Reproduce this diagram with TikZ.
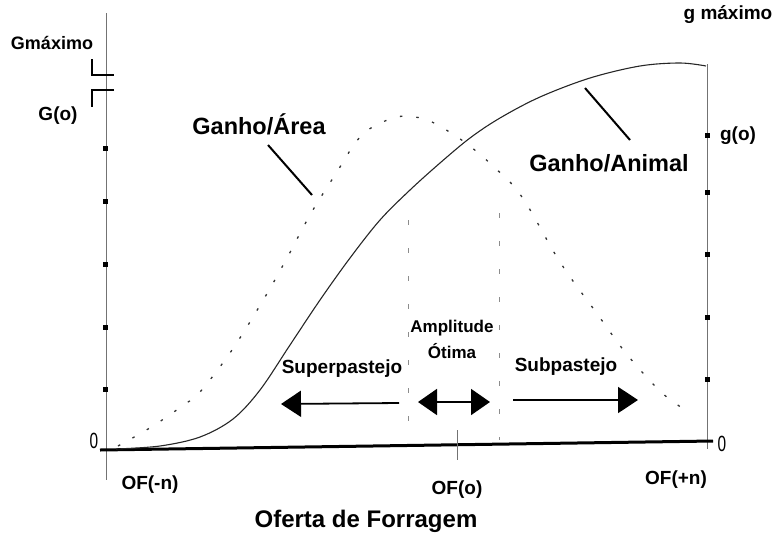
\documentclass[tikz,border=0pt]{standalone}
\usepackage{fontspec}
\setmainfont{Liberation Sans}
\usetikzlibrary{arrows.meta}
\tikzset{
  lbl/.style={font=\bfseries\fontsize{19}{21}\selectfont, inner sep=0pt},
  big/.style={font=\bfseries\fontsize{23.5}{25}\selectfont, inner sep=0pt},
  zero/.style={font=\fontsize{22}{24}\selectfont, inner sep=0pt, xscale=0.7},
  axisline/.style={draw=black!55, line width=1pt},
  marker/.style={fill=black, minimum size=5pt, inner sep=0pt},
  brk/.style={line width=2pt},
  leader/.style={line width=2pt},
  gcurve/.style={line width=1.1pt, black!85},
  acurve/.style={line width=1.3pt, black!80, dash pattern=on 2.5pt off 14pt},
  vdash/.style={line width=1pt, black!45, dash pattern=on 5pt off 23pt},
  shaft/.style={line width=1.8pt},
  tri/.style={-{Triangle[length=20pt,width=26pt]}},
  tritwo/.style={{Triangle[length=19pt,width=26pt]}-{Triangle[length=19pt,width=26pt]}}
}
\begin{document}
\begin{tikzpicture}[x=1pt,y=-1pt]
\useasboundingbox (0,0) rectangle (775,538);
% axes
\coordinate (ly0) at (106,13);
\coordinate (ly1) at (106,480);
\draw[axisline] (ly0) -- (ly1);
\coordinate (ry0) at (707,64);
\coordinate (ry1) at (707,449);
\draw[axisline] (ry0) -- (ry1);
\coordinate (bx0) at (100,450);
\coordinate (bx1) at (713,441);
\draw[line width=3pt] (bx0) -- (bx1);
% OF(o) tick
\coordinate (t0) at (457,430);
\coordinate (t1) at (457,460);
\draw[axisline] (t0) -- (t1);
% break marks on left axis
\coordinate (b1a) at (92,59);
\coordinate (b1b) at (92,75);
\coordinate (b1c) at (114,75);
\draw[brk] (b1a) -- (b1b) -- (b1c);
\coordinate (b2a) at (114,90);
\coordinate (b2b) at (92,90);
\coordinate (b2c) at (92,107);
\draw[brk] (b2a) -- (b2b) -- (b2c);
% markers
\foreach \y [count=\i] in {148,201,264,327,389} \node[marker] (lm\i) at (105,\y) {};
\foreach \y [count=\i] in {135,192,254,317,379} \node[marker] (rm\i) at (707,\y) {};
% zeros
\node[zero] (z0) at (94,441) {0};
\node[zero] (z1) at (722,444) {0};
% dashed verticals
\coordinate (v1a) at (408,220);
\coordinate (v1b) at (408,440);
\draw[vdash] (v1a) -- (v1b);
\coordinate (v2a) at (499,213);
\coordinate (v2b) at (499,440);
\draw[vdash] (v2a) -- (v2b);
% Ganho/Animal curve (solid)
\draw[gcurve] plot[smooth, tension=0.55] coordinates {(116,449) (160,446) (200,437) (233,419) (260,390) (290,345) (320,300) (350,258) (380,220) (410,190) (440,163) (470,138) (500,118) (540,97) (590,78) (640,66) (680,63) (706,66)};
% Ganho/Area curve (dotted)
\draw[acurve] plot[smooth, tension=0.6] coordinates {(118,446) (136,436) (153,426) (168,416) (185,404) (200,392) (232,350) (265,297) (287,258) (310,215) (335,175) (362,135) (393,118) (412,117) (430,121) (463,141) (494,167) (522,197) (560,262) (598,315) (625,352) (653,384) (668,398) (688,412)};
% leaders
\coordinate (la0) at (268,145);
\coordinate (la1) at (312,195);
\draw[leader] (la0) -- (la1);
\coordinate (lb0) at (585,88);
\coordinate (lb1) at (630,140);
\draw[leader] (lb0) -- (lb1);
% arrows
\coordinate (sa0) at (399,403);
\coordinate (sa1) at (281,404);
\draw[shaft,tri] (sa0) -- (sa1);
\coordinate (aa0) at (418,402);
\coordinate (aa1) at (490,402);
\draw[shaft,tritwo] (aa0) -- (aa1);
\coordinate (ba0) at (513,400);
\coordinate (ba1) at (638,400);
\draw[shaft,tri] (ba0) -- (ba1);
% labels
\node[lbl, font=\bfseries\fontsize{18}{20}\selectfont] (gmax) at (52,43) {Gmáximo};
\node[lbl] (go) at (58,116) {G(o)};
\node[lbl] (gmx) at (728,15) {g máximo};
\node[lbl] (gg) at (738,136) {g(o)};
\node[big] (ga) at (259,124) {Ganho/Área};
\node[big] (gan) at (609,163) {Ganho/Animal};
\node[lbl] (sup) at (342,369) {Superpastejo};
\node[lbl] (sub) at (566,367) {Subpastejo};
\node[lbl, font=\bfseries\fontsize{17}{19}\selectfont] (amp) at (452,328) {Amplitude};
\node[lbl, font=\bfseries\fontsize{17}{19}\selectfont] (oti) at (452,351) {Ótima};
\node[lbl] (ofn) at (150,485) {OF(-n)};
\node[lbl] (ofo) at (457,490) {OF(o)};
\node[lbl] (ofp) at (676,480) {OF(+n)};
\node[lbl, font=\bfseries\fontsize{24}{26}\selectfont] (ofe) at (366,521) {Oferta de Forragem};
\end{tikzpicture}
\end{document}
